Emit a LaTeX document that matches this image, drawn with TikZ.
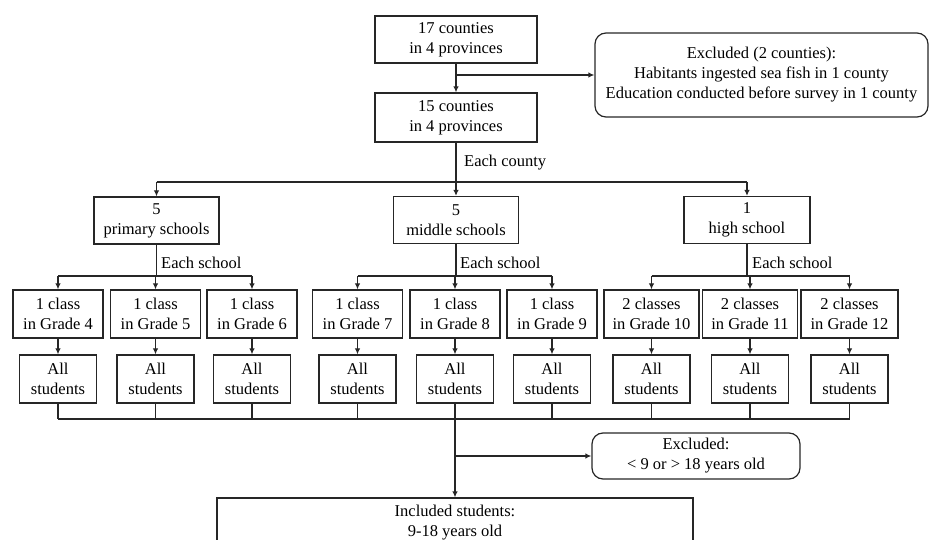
\documentclass[tikz,border=0pt]{standalone}
\usepackage{fontspec}
\setmainfont{Liberation Serif}
\usetikzlibrary{arrows.meta}
\begin{document}
\begin{tikzpicture}[x=1pt,y=-1pt,
  every node/.style={font=\fontsize{16.5}{20}\selectfont, text=black},
  box/.style={draw=black!85, line width=1.2pt, align=center, inner sep=0pt},
  rbox/.style={box, rounded corners=11pt},
  line/.style={draw=black!85, line width=1.2pt},
  arr/.style={line, -{Latex[length=6pt,width=5.5pt]}},
  lab/.style={anchor=west, inner sep=0pt}]
\useasboundingbox (0,0) rectangle (930,540);
\clip (0,0) rectangle (930,540);
% top
\node[box, minimum width=162pt, minimum height=47pt] (c17) at (456,39.5) {17 counties\\in 4 provinces};
\node[box, minimum width=162pt, minimum height=49pt] (c15) at (456,117.5) {15 counties\\in 4 provinces};
\node[rbox, minimum width=333pt, minimum height=84pt] (exc1) at (761.5,75) {Excluded (2 counties):\\Habitants ingested sea fish in 1 county\\Education conducted before survey in 1 county};
\coordinate (j1) at (c17.south |- exc1.west);
\draw[arr] (c17.south) -- (c15.north);
\draw[arr] (j1) -- (exc1.west);
% schools
\node[box, minimum width=125pt, minimum height=47pt] (prim) at (156.5,220.5) {5\\primary schools};
\node[box, minimum width=125pt, minimum height=47pt] (mid) at (456,220) {5\\middle schools};
\node[box, minimum width=126pt, minimum height=47pt] (high) at (747,220) {1\\high school};
\coordinate (h1) at (156.5,182);
\coordinate (h2) at (456,182);
\coordinate (h3) at (747,182);
\draw[line] (c15.south) -- (h2);
\draw[line] (h1) -- (h3);
\draw[arr] (h1) -- (prim.north);
\draw[arr] (h2) -- (mid.north);
\draw[arr] (h3) -- (high.north);
\node[lab] (ec) at (464,163) {Each county};
% classes
\foreach \n/\x/\w/\t in {g4/58/90/{1 class\\in Grade 4}, g5/155.5/90/{1 class\\in Grade 5}, g6/252/90/{1 class\\in Grade 6},
  g7/357.5/90/{1 class\\in Grade 7}, g8/455/90/{1 class\\in Grade 8}, g9/552/90/{1 class\\in Grade 9},
  g10/651.5/95/{2 classes\\in Grade 10}, g11/750/95/{2 classes\\in Grade 11}, g12/849.5/97/{2 classes\\in Grade 12}}{
  \node[box, minimum width=\w pt, minimum height=48pt] (\n) at (\x,314) {\t};
  \node[box, minimum width=77pt, minimum height=48pt] (s\n) at (\x,379) {All\\students};
  \draw[arr] (\n.south) -- (s\n.north);
  \coordinate (b\n) at (\x,419);
  \draw[line] (s\n.south) -- (b\n);
}
% school branches
\coordinate (pj) at (156.5,276);
\coordinate (mj) at (456,276);
\coordinate (hj) at (747,276);
\draw[line] (prim.south) -- (pj);
\draw[line] (mid.south) -- (mj);
\draw[line] (high.south) -- (hj);
\draw[line] (58,276) -- (252,276);
\draw[line] (357.5,276) -- (552,276);
\draw[line] (651.5,276) -- (849.5,276);
\foreach \n in {g4,g5,g6,g7,g8,g9,g10,g11,g12}{
  \draw[arr] (\n.north |- 0,276) -- (\n.north);
}
\node[lab] (es1) at (161,263) {Each school};
\node[lab] (es2) at (460,263) {Each school};
\node[lab] (es3) at (752,263) {Each school};
% bottom
\draw[line] (bg4) -- (bg12);
\node[rbox, minimum width=208pt, minimum height=46pt] (exc2) at (696,456) {Excluded:\\{<} 9 or {>} 18 years old};
\node[box, minimum width=476pt, minimum height=50pt] (incl) at (455,523) {Included students:\\9-18 years old};
\coordinate (j2) at (bg8 |- exc2.west);
\draw[arr] (bg8) -- (incl.north);
\draw[arr] (j2) -- (exc2.west);
\end{tikzpicture}
\end{document}
